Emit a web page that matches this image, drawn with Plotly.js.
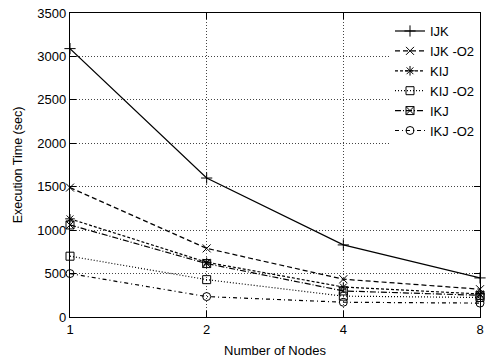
<!DOCTYPE html>
<html>
<head>
<meta charset="utf-8">
<script src="https://cdn.plot.ly/plotly-3.0.1.min.js"></script>
<style>html,body{margin:0;padding:0;background:#fff;}#chart{width:486px;height:361px;}</style>
</head>
<body>
<div id="chart"></div>
<script>
// Data
const nodes = [1, 2, 4, 8];
const seriesNames = ["IJK", "IJK -O2", "KIJ", "KIJ -O2", "IKJ", "IKJ -O2"];
const ijk   = [3090, 1600, 830, 450];
const ijkO2 = [1490, 790, 435, 320];
const kij   = [1130, 630, 345, 265];
const kijO2 = [700, 430, 240, 225];
const ikj   = [1060, 615, 300, 250];
const ikjO2 = [500, 235, 170, 160];
const xTickLabels = ["1", "2", "4", "8"];
const yTicks = [0, 500, 1000, 1500, 2000, 2500, 3000, 3500];

const seriesValues = [ijk, ijkO2, kij, kijO2, ikj, ikjO2];
const styles = [
  {dash: "solid", symbol: "cross-thin-open"},
  {dash: "5px,3px", symbol: "x-thin-open"},
  {dash: "3px,2px", symbol: "asterisk-open"},
  {dash: "1px,2px", symbol: "square-open"},
  {dash: "6px,2px,1px,2px", symbol: "square-x-open"},
  {dash: "4px,3px,1px,3px", symbol: "circle-open"}
];

const traces = seriesValues.map((vals, i) => ({
  type: "scatter",
  mode: "lines+markers",
  name: seriesNames[i],
  x: nodes,
  y: vals,
  line: {color: "#000", width: 1.2, dash: styles[i].dash},
  marker: {symbol: styles[i].symbol, size: 8, color: "#000", line: {color: "#000", width: 1}},
  cliponaxis: false
}));

const font = {family: "Liberation Sans, Arial, sans-serif", color: "#000"};

const layout = {
  width: 486, height: 361,
  margin: {l: 70, r: 6, t: 13, b: 44},
  paper_bgcolor: "#fff", plot_bgcolor: "#fff",
  font: Object.assign({size: 13}, font),
  showlegend: true,
  legend: {
    x: 1, xanchor: "right", y: 0.99, yanchor: "top",
    bgcolor: "#fff", borderwidth: 0,
    font: Object.assign({size: 13}, font),
    tracegroupgap: 0, itemwidth: 30
  },
  xaxis: {
    type: "log",
    range: [0, Math.log10(8)],
    tickvals: nodes, ticktext: xTickLabels,
    ticklabeloverflow: "allow",
    ticks: "inside", ticklen: 6, tickcolor: "#000",
    showline: true, linecolor: "#000", linewidth: 1.2, mirror: "ticks",
    showgrid: true, gridcolor: "#444", griddash: "1px,2px", gridwidth: 1,
    zeroline: false,
    tickfont: Object.assign({size: 13}, font),
    title: {text: "Number of Nodes", font: Object.assign({size: 13}, font), standoff: 10}
  },
  yaxis: {
    range: [0, 3500],
    tickvals: yTicks,
    ticks: "inside", ticklen: 6, tickcolor: "#000",
    showline: true, linecolor: "#000", linewidth: 1.2, mirror: "ticks",
    showgrid: true, gridcolor: "#444", griddash: "1px,2px", gridwidth: 1,
    zeroline: false,
    tickfont: Object.assign({size: 13}, font),
    title: {text: "Execution Time (sec)", font: Object.assign({size: 12.5}, font), standoff: 12}
  }
};

Plotly.newPlot("chart", traces, layout, {displayModeBar: false, staticPlot: true});
</script>
</body>
</html>
